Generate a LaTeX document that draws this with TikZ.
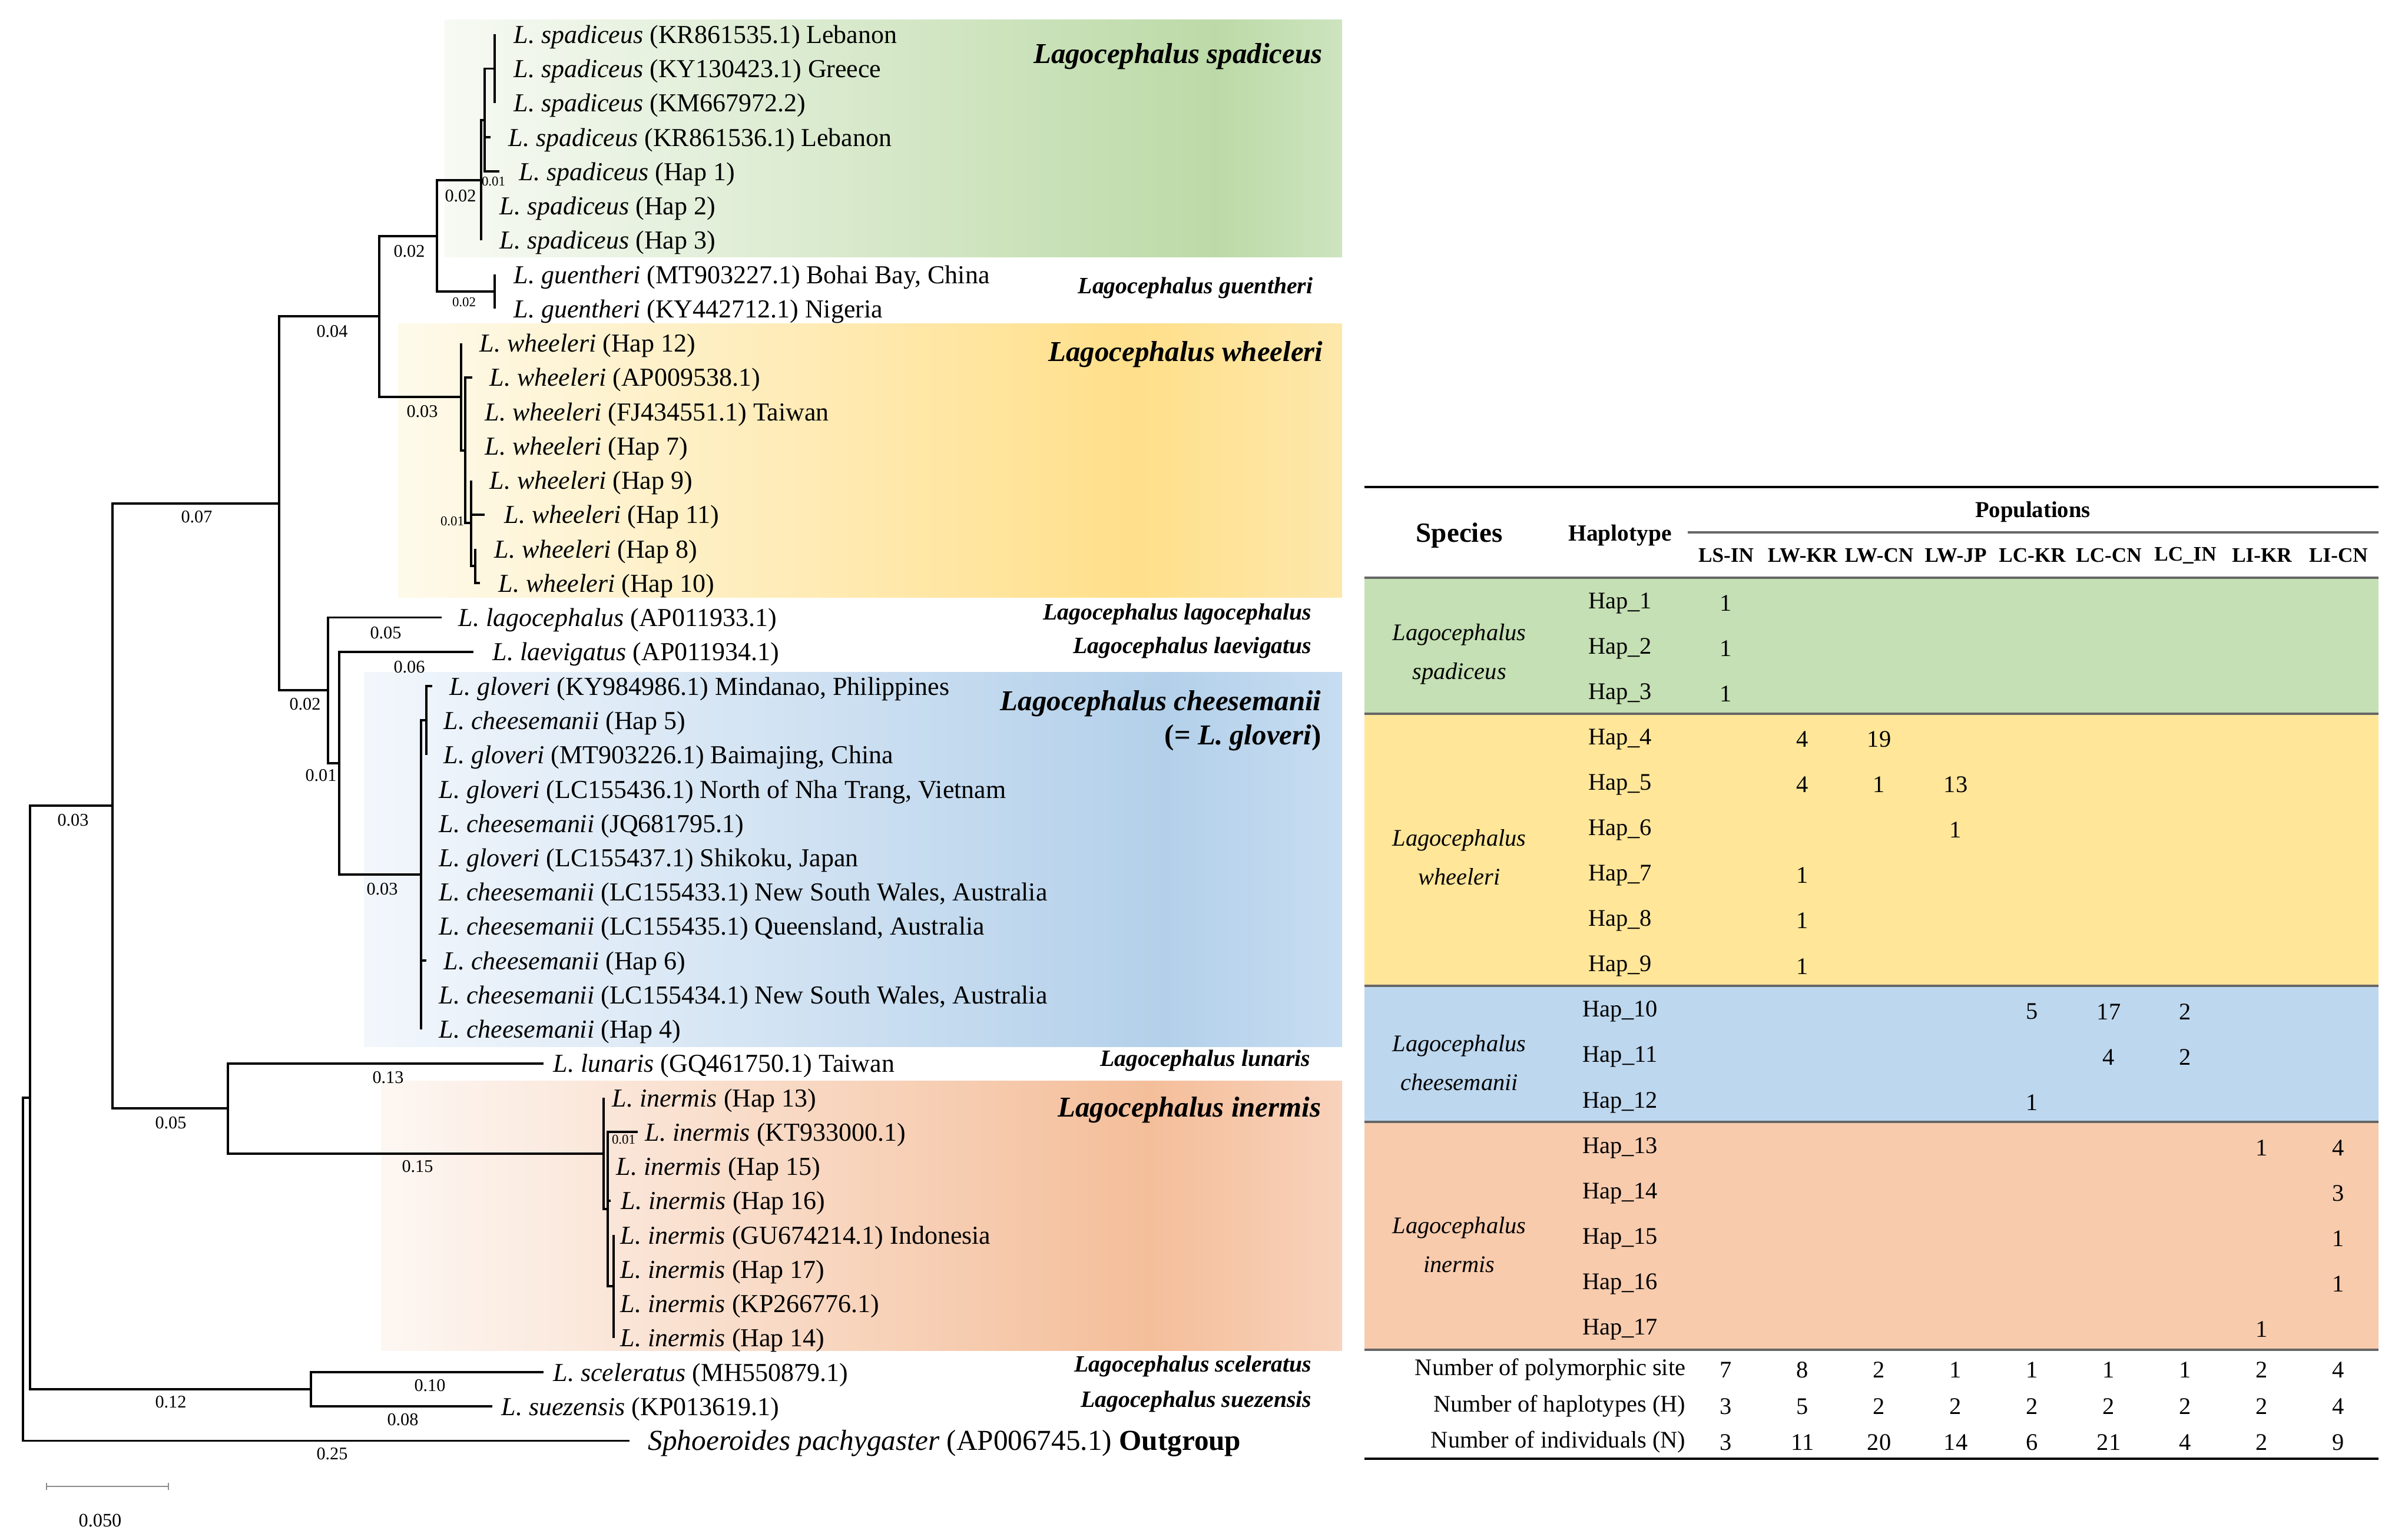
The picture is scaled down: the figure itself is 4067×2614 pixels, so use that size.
\documentclass[tikz,border=0pt]{standalone}
\usepackage{fontspec}
\setmainfont{Liberation Serif}

\definecolor{spadA}{HTML}{F7FAF4}
\definecolor{spadB}{HTML}{BCDAA7}
\definecolor{spadC}{HTML}{CDE4BF}
\definecolor{wheeA}{HTML}{FEFAEB}
\definecolor{wheeB}{HTML}{FFDF8A}
\definecolor{wheeC}{HTML}{FDE8AB}
\definecolor{cheeA}{HTML}{F3F7FC}
\definecolor{cheeB}{HTML}{B3D0EA}
\definecolor{cheeC}{HTML}{C7DDF1}
\definecolor{inerA}{HTML}{FDF7F3}
\definecolor{inerB}{HTML}{F4BE9A}
\definecolor{inerC}{HTML}{F8D2BB}
\definecolor{tabgreen}{HTML}{C5E0B4}
\definecolor{tabyellow}{HTML}{FFE699}
\definecolor{tabblue}{HTML}{BDD7EE}
\definecolor{taborange}{HTML}{F8CBAD}

\pgfdeclarehorizontalshading{spadfade}{100bp}{color(0bp)=(spadA); color(25bp)=(spadA); color(68bp)=(spadB); color(75bp)=(spadC); color(100bp)=(spadC)}
\pgfdeclarehorizontalshading{wheefade}{100bp}{color(0bp)=(wheeA); color(25bp)=(wheeA); color(64bp)=(wheeB); color(75bp)=(wheeC); color(100bp)=(wheeC)}
\pgfdeclarehorizontalshading{cheefade}{100bp}{color(0bp)=(cheeA); color(25bp)=(cheeA); color(66bp)=(cheeB); color(75bp)=(cheeC); color(100bp)=(cheeC)}
\pgfdeclarehorizontalshading{inerfade}{100bp}{color(0bp)=(inerA); color(25bp)=(inerA); color(65bp)=(inerB); color(75bp)=(inerC); color(100bp)=(inerC)}

\begin{document}
\begin{tikzpicture}[x=0.01cm, y=-0.01cm,
  branch/.style={line width=1.1pt},
  leaf/.style={anchor=west, inner sep=0pt, yshift=-1.3pt, font=\fontsize{12.5}{14}\selectfont},
  blen/.style={inner sep=0pt, font=\fontsize{8.6}{10}\selectfont},
  blensm/.style={inner sep=0pt, font=\fontsize{6.5}{8}\selectfont},
  clade/.style={anchor=east, inner sep=0pt, font=\fontsize{13.9}{16}\selectfont\bfseries\itshape},
  cladesm/.style={anchor=east, inner sep=0pt, font=\fontsize{11.3}{13}\selectfont\bfseries\itshape},
  cell/.style={inner sep=0pt, font=\fontsize{11.5}{13}\selectfont},
  colhead/.style={inner sep=0pt, font=\fontsize{10}{12}\selectfont\bfseries},
  rulebk/.style={line width=1.3pt},
  rulegr/.style={line width=0.9pt, draw=black!60}]
\useasboundingbox (0,0) rectangle (4067,2614);

% clade backgrounds
\path[shading=spadfade] (755,33) rectangle (2279,436);
\path[shading=wheefade] (676,549) rectangle (2279,1014);
\path[shading=cheefade] (618,1141) rectangle (2279,1777);
\path[shading=inerfade] (647,1835) rectangle (2279,2293);

% leaves: row / tip / text
\foreach \r/\tip/\tx/\lab in {
  1/840/872/{\textit{L. spadiceus} (KR861535.1) Lebanon},
  2/840/872/{\textit{L. spadiceus} (KY130423.1) Greece},
  3/840/872/{\textit{L. spadiceus} (KM667972.2)},
  4/833/863/{\textit{L. spadiceus} (KR861536.1) Lebanon},
  5/848/881/{\textit{L. spadiceus} (Hap 1)},
  6/817/848/{\textit{L. spadiceus} (Hap 2)},
  7/817/848/{\textit{L. spadiceus} (Hap 3)},
  8/840/872/{\textit{L. guentheri} (MT903227.1) Bohai Bay, China},
  9/840/872/{\textit{L. guentheri} (KY442712.1) Nigeria},
  10/783/814/{\textit{L. wheeleri} (Hap 12)},
  11/802/831/{\textit{L. wheeleri} (AP009538.1)},
  12/790/823/{\textit{L. wheeleri} (FJ434551.1) Taiwan},
  13/790/823/{\textit{L. wheeleri} (Hap 7)},
  14/800/831/{\textit{L. wheeleri} (Hap 9)},
  15/823/856/{\textit{L. wheeleri} (Hap 11)},
  16/807/839/{\textit{L. wheeleri} (Hap 8)},
  17/815/846/{\textit{L. wheeleri} (Hap 10)},
  18/750/778/{\textit{L. lagocephalus} (AP011933.1)},
  19/804/836/{\textit{L. laevigatus} (AP011934.1)},
  20/734/763/{\textit{L. gloveri} (KY984986.1) Mindanao, Philippines},
  21/724/753/{\textit{L. cheesemanii} (Hap 5)},
  22/724/753/{\textit{L. gloveri} (MT903226.1) Baimajing, China},
  23/715/745/{\textit{L. gloveri} (LC155436.1) North of Nha Trang, Vietnam},
  24/715/745/{\textit{L. cheesemanii} (JQ681795.1)},
  25/715/745/{\textit{L. gloveri} (LC155437.1) Shikoku, Japan},
  26/715/745/{\textit{L. cheesemanii} (LC155433.1) New South Wales, Australia},
  27/715/745/{\textit{L. cheesemanii} (LC155435.1) Queensland, Australia},
  28/724/753/{\textit{L. cheesemanii} (Hap 6)},
  29/715/745/{\textit{L. cheesemanii} (LC155434.1) New South Wales, Australia},
  30/715/745/{\textit{L. cheesemanii} (Hap 4)},
  31/923/939/{\textit{L. lunaris} (GQ461750.1) Taiwan},
  32/1025/1039/{\textit{L. inermis} (Hap 13)},
  33/1083/1095/{\textit{L. inermis} (KT933000.1)},
  34/1032/1046/{\textit{L. inermis} (Hap 15)},
  35/1037/1054/{\textit{L. inermis} (Hap 16)},
  36/1042/1053/{\textit{L. inermis} (GU674214.1) Indonesia},
  37/1042/1053/{\textit{L. inermis} (Hap 17)},
  38/1042/1053/{\textit{L. inermis} (KP266776.1)},
  39/1042/1053/{\textit{L. inermis} (Hap 14)},
  40/923/939/{\textit{L. sceleratus} (MH550879.1)},
  41/836/851/{\textit{L. suezensis} (KP013619.1)}}{
  \coordinate (t\r) at (\tip, 58.25*\r);
  \node[leaf] (l\r) at (\tx, 58.25*\r) {\lab};
}
\coordinate (t42) at (1069,2446.5);
\node[leaf, font=\fontsize{14}{16}\selectfont] (l42) at (1100,2446.5)
  {\textit{Sphoeroides pachygaster} (AP006745.1) \textbf{Outgroup}};

% inner nodes
\coordinate (spad3) at (840,116.5);
\coordinate (spad2) at (823,204);
\coordinate (spad1) at (817,306);
\coordinate (guen) at (840,495);
\coordinate (spgu) at (742,401);
\coordinate (whee4) at (807,961);
\coordinate (whee3) at (800,888);
\coordinate (whee2) at (790,765);
\coordinate (whee1) at (783,674);
\coordinate (upper) at (644,537);
\coordinate (chee2) at (724,1223);
\coordinate (chee1) at (715,1485);
\coordinate (laev) at (576,1296);
\coordinate (lago) at (557,1172);
\coordinate (core) at (474,855);
\coordinate (iner3) at (1042,2184);
\coordinate (iner2) at (1032,2053);
\coordinate (iner1) at (1025,1959);
\coordinate (luna) at (387,1882);
\coordinate (main) at (191,1368);
\coordinate (scel) at (528,2359);
\coordinate (ingroup) at (51,1864);
\coordinate (root) at (39,2155);

% branches
\foreach \p/\c in {spad3/t1, spad3/t2, spad3/t3, spad2/spad3, spad2/t4, spad2/t5,
  spad1/spad2, spad1/t6, spad1/t7, guen/t8, guen/t9, spgu/spad1, spgu/guen,
  whee4/t16, whee4/t17, whee3/t14, whee3/t15, whee3/whee4, whee2/t11, whee2/t12,
  whee2/t13, whee2/whee3, whee1/t10, whee1/whee2, upper/spgu, upper/whee1,
  chee2/t20, chee2/t21, chee2/t22, chee1/chee2, chee1/t23, chee1/t24, chee1/t25,
  chee1/t26, chee1/t27, chee1/t28, chee1/t29, chee1/t30, laev/t19, laev/chee1,
  lago/t18, lago/laev, core/upper, core/lago,
  iner3/t36, iner3/t37, iner3/t38, iner3/t39, iner2/t33, iner2/t34, iner2/t35,
  iner2/iner3, iner1/t32, iner1/iner2, luna/t31, luna/iner1,
  main/core, main/luna, scel/t40, scel/t41, ingroup/main, ingroup/scel,
  root/ingroup, root/t42}
  \draw[branch] (\p) |- (\c);

% branch lengths
\foreach \x/\y/\v [count=\i] in {564/2469/0.25, 290/2381/0.12, 730/2353/0.10,
  684/2411/0.08, 124/1393/0.03, 290/1907/0.05, 334/878/0.07, 659/1830/0.13,
  709/1981/0.15, 564/563/0.04, 695/427/0.02, 782/333/0.02, 717/699/0.03,
  655/1075/0.05, 695/1133/0.06, 518/1196/0.02, 545/1317/0.01, 649/1510/0.03}
  \node[blen] (bl\i) at (\x,\y) {\v};
\foreach \x/\y/\v [count=\i] in {1059/1935/0.01, 838/308/0.01, 788/513/0.02, 768/885/0.01}
  \node[blensm] (bs\i) at (\x,\y) {\v};

% clade names
\node[clade] (nspad) at (2246,96) {Lagocephalus spadiceus};
\node[cladesm] (nguen) at (2230,489) {Lagocephalus guentheri};
\node[clade] (nwhee) at (2247,602) {Lagocephalus wheeleri};
\node[cladesm] (nlago) at (2228,1043) {Lagocephalus lagocephalus};
\node[cladesm] (nlaev) at (2228,1100) {Lagocephalus laevigatus};
\node[clade] (nchee) at (2244,1195) {Lagocephalus cheesemanii};
\node[clade] (nglov) at (2244,1253) {\upshape(= \itshape L. gloveri\upshape)};
\node[cladesm] (nluna) at (2226,1801) {Lagocephalus lunaris};
\node[clade] (niner) at (2244,1885) {Lagocephalus inermis};
\node[cladesm] (nscel) at (2228,2320) {Lagocephalus sceleratus};
\node[cladesm] (nsuez) at (2228,2380) {Lagocephalus suezensis};

% scale bar
\coordinate (sb1) at (79,2524);
\coordinate (sb2) at (286,2524);
\draw[black!45, line width=0.6pt] (sb1) -- (sb2);
\draw[black!45, line width=0.6pt] ([yshift=-0.06cm]sb1) -- ([yshift=0.06cm]sb1);
\draw[black!45, line width=0.6pt] ([yshift=-0.06cm]sb2) -- ([yshift=0.06cm]sb2);
\node[inner sep=0pt, font=\fontsize{9.2}{11}\selectfont] (sblab) at (170,2582) {0.050};

% table
\fill[tabgreen] (2317,981) rectangle (4039,1212);
\fill[tabyellow] (2317,1212) rectangle (4039,1674);
\fill[tabblue] (2317,1674) rectangle (4039,1905);
\fill[taborange] (2317,1905) rectangle (4039,2292);
\draw[rulebk] (2317,827) -- (4039,827);
\draw[rulegr] (2866,904) -- (4039,904);
\foreach \y in {981,1212,1674,1905,2292}
  \draw[rulegr] (2317,\y) -- (4039,\y);
\draw[rulebk] (2317,2477) -- (4039,2477);

\node[inner sep=0pt, font=\fontsize{13.4}{15}\selectfont\bfseries] (hspec) at (2478,909) {Species};
\node[inner sep=0pt, font=\fontsize{11.2}{13}\selectfont\bfseries] (hhap) at (2751,909) {Haplotype};
\node[inner sep=0pt, font=\fontsize{11}{13}\selectfont\bfseries] (hpop) at (3452,869) {Populations};
\foreach \n [count=\k from 0] in {LS-IN, LW-KR, LW-CN, LW-JP, LC-KR, LC-CN, LC\_IN, LI-KR, LI-CN}
  \node[colhead] (col\k) at (2931+130*\k, 943) {\n};

\foreach \k in {1,...,17}
  \node[cell] (hap\k) at (2751, {1024+77.08*(\k-1)}) {Hap\_\k};
\foreach \h/\c/\v in {1/0/1, 2/0/1, 3/0/1, 4/1/4, 4/2/19, 5/1/4, 5/2/1, 5/3/13,
  6/3/1, 7/1/1, 8/1/1, 9/1/1, 10/4/5, 10/5/17, 10/6/2, 11/5/4, 11/6/2, 12/4/1,
  13/7/1, 13/8/4, 14/8/3, 15/8/1, 16/8/1, 17/7/1}
  \node[cell] (v\h-\c) at (2931+130*\c, {1024+77.08*(\h-1)}) {\v};

\node[cell, align=center, font=\fontsize{11.5}{18.8}\selectfont\itshape] (gspad) at (2478,1111) {Lagocephalus\\spadiceus};
\node[cell, align=center, font=\fontsize{11.5}{18.8}\selectfont\itshape] (gwhee) at (2478,1456) {Lagocephalus\\wheeleri};
\node[cell, align=center, font=\fontsize{11.5}{18.8}\selectfont\itshape] (gchee) at (2478,1805) {Lagocephalus\\cheesemanii};
\node[cell, align=center, font=\fontsize{11.5}{18.8}\selectfont\itshape] (giner) at (2478,2114) {Lagocephalus\\inermis};

\node[cell, anchor=east] (sps) at (2863,2326) {Number of polymorphic site};
\node[cell, anchor=east] (sph) at (2863,2388) {Number of haplotypes (H)};
\node[cell, anchor=east] (spn) at (2863,2449) {Number of individuals (N)};
\foreach \v [count=\k from 0] in {7,8,2,1,1,1,1,2,4}
  \node[cell] (ps\k) at (2931+130*\k, 2326) {\v};
\foreach \v [count=\k from 0] in {3,5,2,2,2,2,2,2,4}
  \node[cell] (ph\k) at (2931+130*\k, 2388) {\v};
\foreach \v [count=\k from 0] in {3,11,20,14,6,21,4,2,9}
  \node[cell] (pn\k) at (2931+130*\k, 2449) {\v};
\end{tikzpicture}
\end{document}
